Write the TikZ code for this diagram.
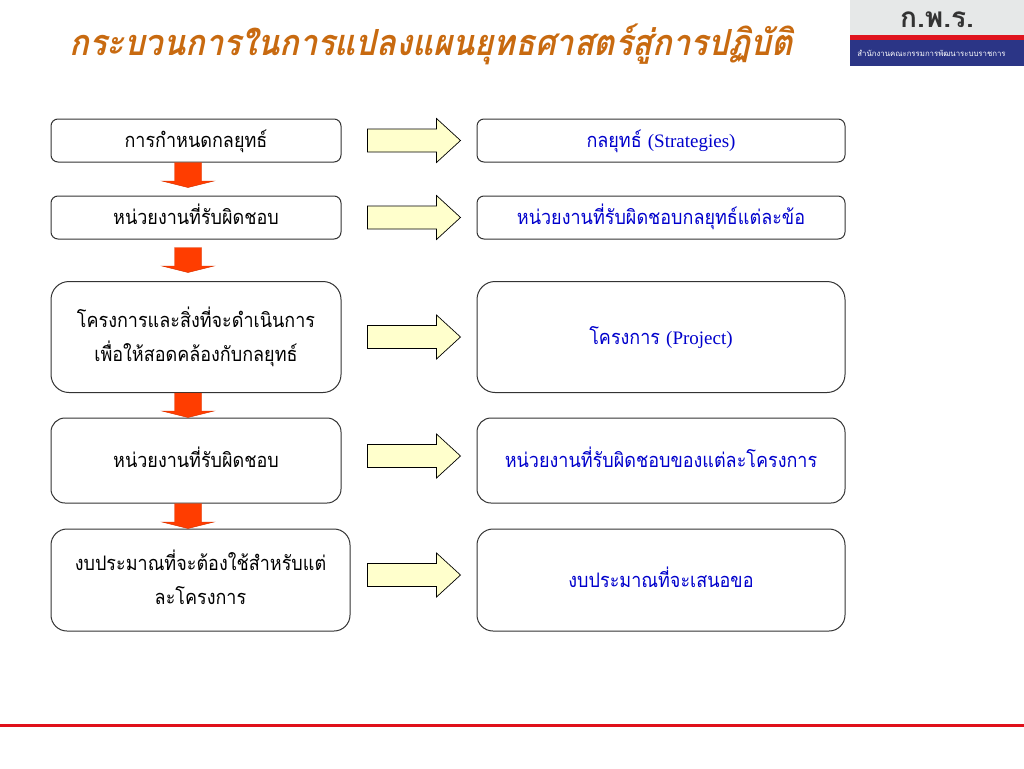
\documentclass[tikz,border=0pt]{standalone}
\usepackage{fontspec}
\usetikzlibrary{calc}
\setmainfont{Liberation Serif}
\newfontfamily\thaibody[Script=Thai,FakeStretch=0.9]{Loma}
\newfontfamily\thaititle[Script=Thai,FakeStretch=0.905,FakeSlant=0.22]{Loma}
\newfontfamily\thailogo[Script=Thai]{Loma}
\newcommand{\ts}[1]{\rule[-3pt]{0pt}{20pt}\smash{#1}}
\newcommand{\latn}[1]{{\rmfamily\fontsize{19}{34}\selectfont #1}}
\definecolor{boxline}{HTML}{333333}
\definecolor{bluetext}{HTML}{0000CC}
\definecolor{titlecol}{HTML}{C86A10}
\definecolor{redarrow}{HTML}{FF3D00}
\definecolor{yellowfill}{HTML}{FFFFCC}
\definecolor{logogray}{HTML}{E6E8E8}
\definecolor{logored}{HTML}{E0141E}
\definecolor{logoblue}{HTML}{2B3586}
\definecolor{rulered}{HTML}{E0101A}
\tikzset{
  x=1pt,y=-1pt,
  flowbox/.style={draw=boxline,line width=1pt,fill=white,align=center,inner sep=0pt,font=\thaibody\fontsize{20}{34}\selectfont},
  leftbox/.style={flowbox,text=black},
  rightbox/.style={flowbox,text=bluetext},
  downarrow/.style={draw=redarrow!85!black,line width=0.4pt,fill=redarrow,
    to path={let \p1=(\tikztostart),\p2=(\tikztotarget) in
      (\x1-13.5pt,\y1) -- (\x1-13.5pt,\y2+6.5pt) -- (\x1-26pt,\y2+6.5pt) -- (\x2,\y2)
      -- (\x1+26pt,\y2+6.5pt) -- (\x1+13.5pt,\y2+6.5pt) -- (\x1+13.5pt,\y1) -- cycle}},
  sidearrow/.style={draw=black,line width=0.7pt,fill=yellowfill,
    to path={let \p1=(\tikztostart),\p2=(\tikztotarget) in
      (\x1,\y1+11.5pt) -- (\x2-24pt,\y1+11.5pt) -- (\x2-24pt,\y1+22pt) -- (\x2,\y1)
      -- (\x2-24pt,\y1-22pt) -- (\x2-24pt,\y1-11.5pt) -- (\x1,\y1-11.5pt) -- cycle}}
}
\begin{document}
\begin{tikzpicture}
\useasboundingbox (0,0) rectangle (1024,768);
\fill[white] (0,0) rectangle (1024,768);
% logo
\fill[logogray] (850,0) rectangle (1024,35);
\fill[logored] (850,35) rectangle (1024,40);
\fill[logoblue] (850,40) rectangle (1024,66);
\node[inner sep=0pt,text=black!80] (logoname) at (937,20) {\thailogo\bfseries\fontsize{28}{28}\selectfont ก.พ.ร.};
\node[inner sep=0pt,text=white] (logosub) at (931.5,53) {\thailogo\fontsize{7.8}{8}\selectfont สำนักงานคณะกรรมการพัฒนาระบบราชการ};
% title
\node[inner sep=0pt,text=titlecol] (title) at (431,44) {\thaititle\bfseries\fontsize{36}{36}\selectfont กระบวนการในการแปลงแผนยุทธศาสตร์สู่การปฏิบัติ};
% left boxes
\node[leftbox,rounded corners=7pt,minimum width=290pt,minimum height=43pt] (l1) at (196,140.5) {\ts{การกำหนดกลยุทธ์}};
\node[leftbox,rounded corners=7pt,minimum width=290pt,minimum height=43pt] (l2) at (196,217.5) {\ts{หน่วยงานที่รับผิดชอบ}};
\node[leftbox,rounded corners=18pt,minimum width=290pt,minimum height=111pt] (l3) at (196,337) {\ts{โครงการและสิ่งที่จะดำเนินการ}\\\ts{เพื่อให้สอดคล้องกับกลยุทธ์}};
\node[leftbox,rounded corners=14pt,minimum width=290pt,minimum height=85pt] (l4) at (196,460.5) {\ts{หน่วยงานที่รับผิดชอบ}};
\node[leftbox,rounded corners=16pt,minimum width=299pt,minimum height=102pt] (l5) at (200.5,580) {\ts{งบประมาณที่จะต้องใช้สำหรับแต่}\\\ts{ละโครงการ}};
% right boxes
\node[rightbox,rounded corners=7pt,minimum width=368pt,minimum height=43pt] (r1) at (661,140.5) {\ts{กลยุทธ์ \latn{(Strategies)}}};
\node[rightbox,rounded corners=7pt,minimum width=368pt,minimum height=43pt] (r2) at (661,217.5) {\ts{หน่วยงานที่รับผิดชอบกลยุทธ์แต่ละข้อ}};
\node[rightbox,rounded corners=18pt,minimum width=368pt,minimum height=111pt] (r3) at (661,337) {\ts{โครงการ \latn{(Project)}}};
\node[rightbox,rounded corners=14pt,minimum width=368pt,minimum height=85pt] (r4) at (661,460.5) {\ts{หน่วยงานที่รับผิดชอบของแต่ละโครงการ}};
\node[rightbox,rounded corners=16pt,minimum width=368pt,minimum height=102pt] (r5) at (661,580) {\ts{งบประมาณที่จะเสนอขอ}};
% red arrows
\draw[downarrow] ($(l1.south)+(-8,0)$) to ($(l2.north)+(-8,-8)$);
\draw[downarrow] ($(l2.south)+(-8,8)$) to ($(l3.north)+(-8,-8.5)$);
\draw[downarrow] ($(l3.south)+(-8,0)$) to ($(l4.north)+(-8,0)$);
\draw[downarrow] ($(l4.south)+(-8,0)$) to ($(l5.north)+(-12.5,0)$);
% yellow arrows
\draw[sidearrow] ($(l1.east)+(26,0)$) to ($(r1.west)+(-16,0)$);
\draw[sidearrow] ($(l2.east)+(26,0)$) to ($(r2.west)+(-16,0)$);
\draw[sidearrow] ($(l3.east)+(26,0)$) to ($(r3.west)+(-16,0)$);
\draw[sidearrow] ($(l4.east)+(26,-4.5)$) to ($(r4.west)+(-16,-4.5)$);
\draw[sidearrow] ($(l5.east)+(17,-5)$) to ($(r5.west)+(-16,-5)$);
% bottom rule
\draw[rulered,line width=3pt] (0,725) -- (1024,725);
\end{tikzpicture}
\end{document}
